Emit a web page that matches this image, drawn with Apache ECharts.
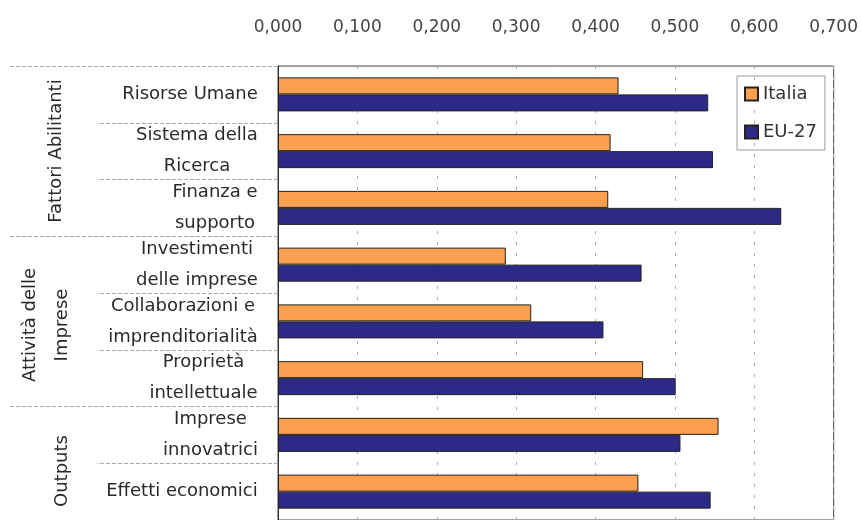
<!DOCTYPE html>
<html>
<head>
<meta charset="utf-8">
<script src="https://cdn.jsdelivr.net/npm/echarts@6/dist/echarts.min.js"></script>
<style>
html,body{margin:0;padding:0;background:#fff;}
#chart{width:861px;height:520px;}
</style>
</head>
<body>
<div id="chart"></div>
<script>
const categories = [
  'Risorse Umane',
  'Sistema della\nRicerca',
  'Finanza e\nsupporto',
  'Investimenti\ndelle imprese',
  'Collaborazioni e\nimprenditorialità',
  'Proprietà\nintellettuale',
  'Imprese\ninnovatrici',
  'Effetti economici'
];
const italia = [0.429, 0.419, 0.416, 0.287, 0.319, 0.460, 0.555, 0.454];
const eu27   = [0.542, 0.548, 0.634, 0.458, 0.410, 0.501, 0.507, 0.545];
const seriesNames = ['Italia', 'EU-27'];
const xTickLabels = ['0,000', '0,100', '0,200', '0,300', '0,400', '0,500', '0,600', '0,700'];
const groupNames = ['Fattori Abilitanti', 'Attività delle\nImprese', 'Outputs'];
const groupStarts = [0, 3, 6];

const FONT = '"DejaVu Sans", sans-serif';
const LABEL_SIZE = 18;

// measure lines for centered multi-line labels
const cv = document.createElement('canvas').getContext('2d');
cv.font = LABEL_SIZE + 'px ' + FONT;
const rich = {};
categories.forEach((c, i) => {
  const w = Math.max(...c.split('\n').map(l => cv.measureText(l).width));
  rich['c' + i] = {width: Math.ceil(w), align: 'center', fontSize: LABEL_SIZE, fontFamily: FONT, color: '#2a2a2a', lineHeight: 31};
});

const chart = echarts.init(document.getElementById('chart'));
chart.setOption({
  backgroundColor: '#fff',
  animation: false,
  grid: {left: 278, top: 66, width: 557, height: 464, show: true, borderColor: '#444', borderWidth: 1, backgroundColor: 'transparent'},
  legend: {
    data: seriesNames,
    orient: 'vertical',
    left: 737, top: 76,
    padding: [9, 8, 9, 7],
    itemWidth: 13, itemHeight: 13, itemGap: 20,
    icon: 'rect',
    borderColor: '#999', borderWidth: 1,
    textStyle: {fontSize: 18, fontFamily: FONT, color: '#333'}
  },
  xAxis: {
    type: 'value', position: 'top', min: 0, max: 0.7, interval: 0.1,
    axisLine: {show: false}, axisTick: {show: false},
    axisLabel: {
      margin: 30, fontSize: 17, fontFamily: FONT, color: '#444',
      formatter: (v) => xTickLabels[Math.round(v * 10)]
    },
    splitLine: {show: true, lineStyle: {color: '#aaa', type: [3, 8], width: 1}}
  },
  yAxis: [{
    type: 'category', data: categories, inverse: true,
    axisLine: {show: true, lineStyle: {color: '#333'}},
    axisTick: {show: true, length: 181, lineStyle: {color: '#aaa', type: 'dashed'}},
    axisLabel: {
      margin: 20,
      formatter: (v, i) => v.split('\n').map(l => '{c' + i + '|' + l + '}').join('\n'),
      rich: rich
    }
  }, {
    type: 'category', data: categories, inverse: true, position: 'left',
    axisLine: {show: false},
    axisLabel: {show: false},
    axisTick: {show: true, length: 268, interval: (i) => groupStarts.indexOf(i) >= 0, lineStyle: {color: '#aaa', type: 'dashed'}}
  }],
  series: [{
    name: seriesNames[0], type: 'bar', data: italia, yAxisIndex: 0,
    barWidth: 17, barGap: '0%',
    itemStyle: {color: '#FBA04E', borderColor: '#222', borderWidth: 1}
  }, {
    name: seriesNames[1], type: 'bar', data: eu27, yAxisIndex: 0,
    barWidth: 17, barGap: '0%',
    itemStyle: {color: '#2D2A87', borderColor: '#222', borderWidth: 1}
  }],
  graphic: [
    {type: 'text', x: 56, y: 151, rotation: Math.PI / 2,
     style: {text: groupNames[0], font: LABEL_SIZE + 'px ' + FONT, fill: '#2a2a2a', align: 'center', verticalAlign: 'middle', textAlign: 'center', textVerticalAlign: 'middle'}},
    {type: 'text', x: 46, y: 325, rotation: Math.PI / 2,
     style: {text: groupNames[1], font: LABEL_SIZE + 'px ' + FONT, fill: '#2a2a2a', lineHeight: 32, align: 'center', verticalAlign: 'middle', textAlign: 'center', textVerticalAlign: 'middle'}},
    {type: 'text', x: 62, y: 471, rotation: Math.PI / 2,
     style: {text: groupNames[2], font: LABEL_SIZE + 'px ' + FONT, fill: '#2a2a2a', align: 'center', verticalAlign: 'middle', textAlign: 'center', textVerticalAlign: 'middle'}}
  ]
});
</script>
</body>
</html>
